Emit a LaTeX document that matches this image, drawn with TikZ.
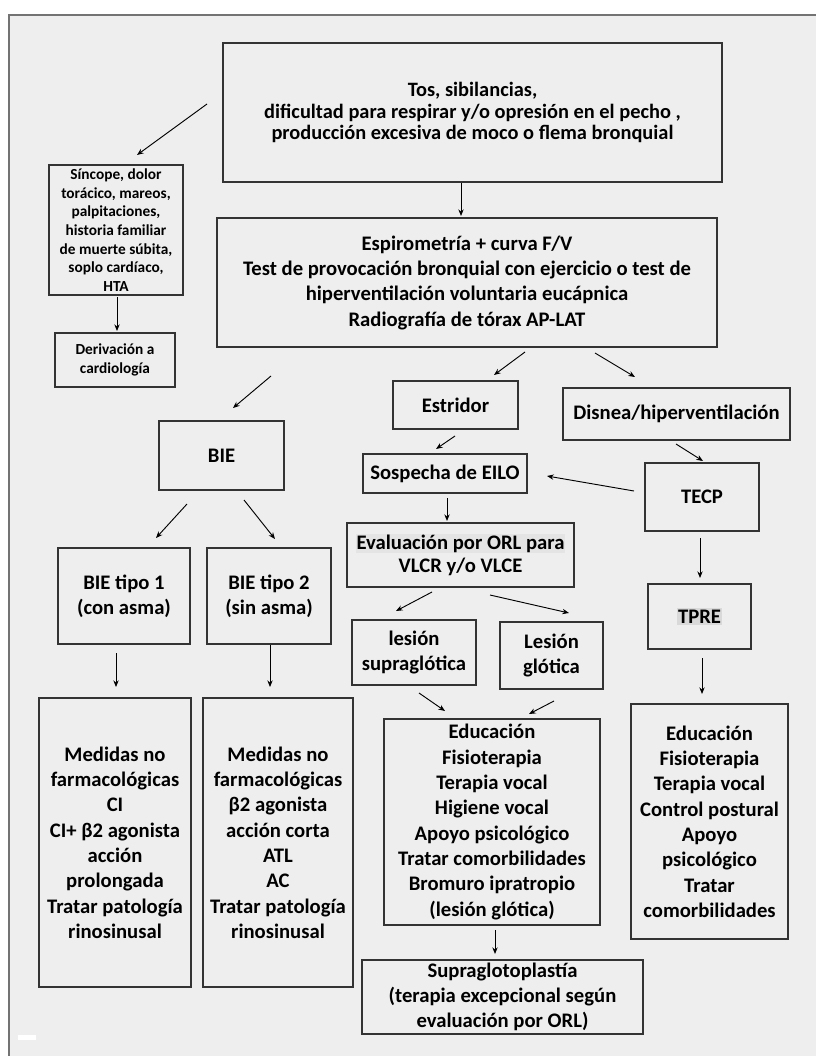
\documentclass[tikz,border=0pt]{standalone}
\usepackage{fontspec}
\setmainfont{Carlito}
\usetikzlibrary{arrows.meta}
\definecolor{bg}{HTML}{EEEEEE}
\definecolor{hl}{HTML}{D9D9D9}
\definecolor{hlb}{HTML}{E4E4E4}
% \bx{name}{x1}{y1}{x2}{y2}{extra style}{text}
\newcommand\bx[7]{\node[box,#6,minimum width={(#4-#2)*0.75pt},minimum height={(#5-#3)*0.75pt}]
  (#1) at ({(#2+#4)/2},{(#3+#5)/2}) {#7};}
\begin{document}
\begin{tikzpicture}[x=0.75pt,y=-0.75pt,
  box/.style={draw=black!80, line width=0.9pt, inner sep=0pt, align=center,
    font=\bfseries\fontsize{15.5}{19}\selectfont},
  sbox/.style={font=\bfseries\fontsize{11.5}{14}\selectfont},
  arr/.style={-{Stealth[length=5pt,width=4pt]}, line width=0.7pt, black}]
\useasboundingbox (0,0) rectangle (816,1056);
\fill[white] (0,0) rectangle (816,1056);
\filldraw[fill=bg, draw=black!55, line width=1.2pt] (9,15) rectangle (840,1080);
\fill[white] (18,1035) rectangle (36,1040);

% boxes
\bx{top}{223}{43}{722}{182}{font=\bfseries\fontsize{15.3}{16.2}\selectfont}
  {Tos, sibilancias,\\dificultad para respirar y/o opresión en el pecho ,\\producción excesiva de moco o flema bronquial}
\bx{sinc}{49}{165}{183}{295}{sbox}
  {Síncope, dolor\\torácico, mareos,\\palpitaciones,\\historia familiar\\de muerte súbita,\\soplo cardíaco,\\HTA}
\bx{deriv}{55}{333}{175}{387}{sbox}{Derivación a\\cardiología}
\bx{esp}{217}{218}{717}{347}{}
  {Espirometría + curva F/V\\Test de provocación bronquial con ejercicio o test de\\hiperventilación voluntaria eucápnica\\Radiografía de tórax AP-LAT}
\bx{bie}{159}{421}{284}{490}{}{BIE}
\bx{estr}{393}{381}{518}{429}{}{Estridor}
\bx{disn}{563}{388}{790}{440}{}{Disnea/hiperventilación}
\bx{sosp}{363}{454}{527}{493}{}{Sospecha de EILO}
\bx{tecp}{645}{463}{759}{531}{}{TECP}
\bx{eval}{347}{523}{574}{587}{font=\bfseries\fontsize{15.5}{17.5}\selectfont}
  {{\setlength{\fboxsep}{0.5pt}\colorbox{hlb}{Evaluación por ORL para}}\\VLCR y/o VLCE}
\bx{bie1}{58}{548}{190}{644}{}{BIE tipo 1\\(con asma)}
\bx{bie2}{207}{548}{331}{644}{}{BIE tipo 2\\(sin asma)}
\bx{tpre}{648}{584}{751}{649}{}{{\setlength{\fboxsep}{1pt}\colorbox{hl}{TPRE}}}
\bx{lsup}{352}{620}{476}{685}{}{lesión\\supraglótica}
\bx{lglo}{500}{622}{603}{689}{}{Lesión\\glótica}
\bx{tx1}{39}{698}{191}{987}{}
  {Medidas no\\farmacológicas\\CI\\CI+ β2 agonista\\acción\\prolongada\\Tratar patología\\rinosinusal}
\bx{tx2}{203}{698}{353}{987}{}
  {Medidas no\\farmacológicas\\β2 agonista\\acción corta\\ATL\\AC\\Tratar patología\\rinosinusal}
\bx{educ}{384}{719}{600}{925}{}
  {Educación\\Fisioterapia\\Terapia vocal\\Higiene vocal\\Apoyo psicológico\\Tratar comorbilidades\\Bromuro ipratropio\\(lesión glótica)}
\bx{tx4}{631}{704}{788}{939}{}
  {Educación\\Fisioterapia\\Terapia vocal\\Control postural\\Apoyo\\psicológico\\Tratar\\comorbilidades}
\bx{supra}{362}{960}{643}{1034}{}
  {Supraglotoplastía\\(terapia excepcional según\\evaluación por ORL)}

% connector end points
\coordinate (topL) at (207,104);   \coordinate (sincT) at (137,155);
\coordinate (sincB) at (117,297);  \coordinate (derivT) at (117,331);
\coordinate (topB) at (461,183);   \coordinate (espT) at (461,216);
\coordinate (espBL) at (271,376);  \coordinate (bieT) at (233,408);
\coordinate (espBM) at (525,352);  \coordinate (estrT) at (494,375);
\coordinate (espBR) at (595,353);  \coordinate (disnT) at (635,377);
\coordinate (estrB) at (455,436);  \coordinate (sospT) at (436,449);
\coordinate (tecpL) at (634,491);  \coordinate (sospR) at (547,476);
\coordinate (disnB) at (676,444);  \coordinate (tecpT) at (703,461);
\coordinate (sospB) at (447,498);  \coordinate (evalT) at (447,521);
\coordinate (bieBL) at (187,504);  \coordinate (bie1T) at (156,538);
\coordinate (bieBR) at (244,500);  \coordinate (bie2T) at (275,539);
\coordinate (tecpB) at (700,538);  \coordinate (tpreT) at (700,578);
\coordinate (evalBL) at (432,592); \coordinate (lsupT) at (396,611);
\coordinate (evalBR) at (490,595); \coordinate (lgloT) at (569,613);
\coordinate (bie1B) at (116,653);  \coordinate (tx1T) at (116,687);
\coordinate (bie2B) at (270,645);  \coordinate (tx2T) at (270,687);
\coordinate (tpreB) at (702,658);  \coordinate (tx4T) at (702,694);
\coordinate (lsupB) at (419,693);  \coordinate (educTL) at (445,711);
\coordinate (lgloB) at (554,701);  \coordinate (educTR) at (529,714);
\coordinate (educB) at (495,930);  \coordinate (supraT) at (495,954);

% connectors
\draw[arr] (topL) -- (sincT);
\draw[arr] (sincB) -- (derivT);
\draw[arr] (topB) -- (espT);
\draw[arr] (espBL) -- (bieT);
\draw[arr] (espBM) -- (estrT);
\draw[arr] (espBR) -- (disnT);
\draw[arr] (estrB) -- (sospT);
\draw[arr] (tecpL) -- (sospR);
\draw[arr] (disnB) -- (tecpT);
\draw[arr] (sospB) -- (evalT);
\draw[arr] (bieBL) -- (bie1T);
\draw[arr] (bieBR) -- (bie2T);
\draw[arr] (tecpB) -- (tpreT);
\draw[arr] (evalBL) -- (lsupT);
\draw[arr] (evalBR) -- (lgloT);
\draw[arr] (bie1B) -- (tx1T);
\draw[arr] (bie2B) -- (tx2T);
\draw[arr] (tpreB) -- (tx4T);
\draw[arr] (lsupB) -- (educTL);
\draw[arr] (lgloB) -- (educTR);
\draw[arr] (educB) -- (supraT);
\end{tikzpicture}
\end{document}
